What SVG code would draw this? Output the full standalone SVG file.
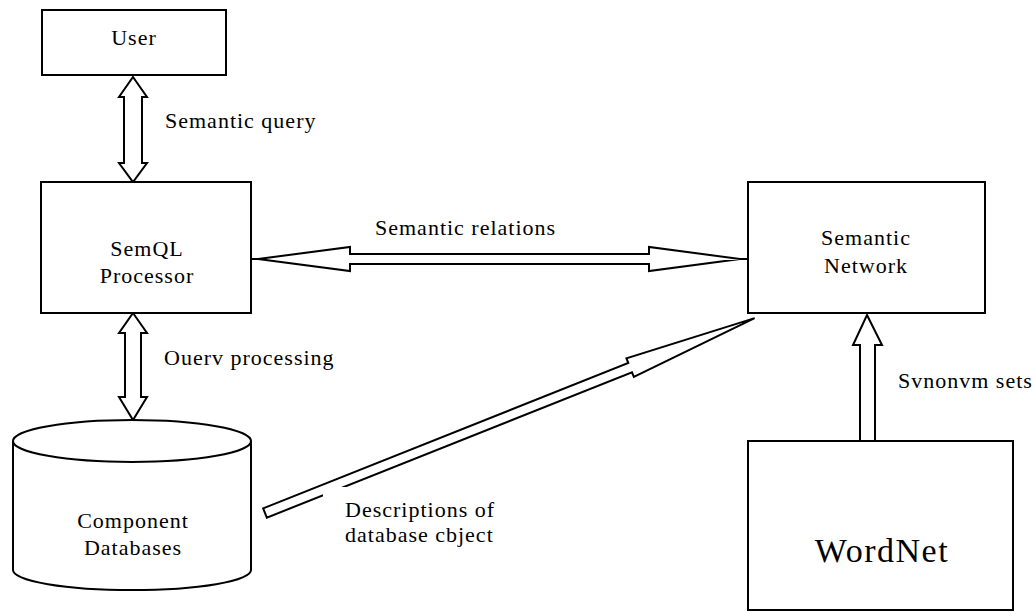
<svg xmlns="http://www.w3.org/2000/svg" width="1034" height="612" viewBox="0 0 1034 612">
  <style>
    .box { fill: #ffffff; stroke: #000000; stroke-width: 2; }
    .arr { fill: #ffffff; stroke: #000000; stroke-width: 2; stroke-linejoin: miter; }
    .ln { fill: none; stroke: #000000; stroke-width: 2; }
    .t { font-family: "Liberation Serif", "Times New Roman", serif; font-size: 22px; letter-spacing: 1px; fill: #000000; }
    .c { text-anchor: middle; }
    .big { font-size: 34px; letter-spacing: 1.5px; }
  </style>
  <rect width="1034" height="612" fill="#ffffff"/>

  <g id="connectors">
    <!-- User <-> SemQL -->
    <path class="arr" d="M133,77 L147,97 L142,97 L142,163 L147,163 L133,182 L119,163 L124,163 L124,97 L119,97 Z"/>
    <!-- SemQL <-> Component Databases -->
    <path class="arr" d="M133,313 L147,333 L141,333 L141,397 L147,397 L133,420 L119,397 L125,397 L125,333 L119,333 Z"/>
    <!-- SemQL <-> Semantic Network -->
    <line class="ln" x1="251" y1="259" x2="258" y2="259"/>
    <line class="ln" x1="740" y1="259" x2="748" y2="259"/>
    <path class="arr" d="M258,259 L350,247 L350,254 L649,254 L649,247 L740,259 L649,271 L649,264 L350,264 L350,271 Z"/>
    <!-- Component Databases -> Semantic Network -->
    <polygon class="arr" transform="translate(265,513) rotate(-21.7)" points="0,-5 393,-5 393,-10 527,0 393,10 393,5 0,5"/>
    <!-- WordNet -> Semantic Network -->
    <path class="arr" d="M867,315 L882,345 L875,345 L875,441 L860,441 L860,345 L853,345 Z"/>
  </g>

  <g id="label-semantic-query">
    <text class="t" x="165" y="128">Semantic query</text>
  </g>
  <g id="label-query-processing">
    <text class="t" x="164" y="365">Ouerv processing</text>
  </g>
  <g id="label-semantic-relations">
    <text class="t" x="375" y="235">Semantic relations</text>
  </g>
  <g id="label-descriptions">
    <rect x="323" y="487" width="175" height="62" fill="#ffffff"/>
    <text class="t" x="345" y="517">Descriptions of</text>
    <text class="t" x="345" y="542">database cbject</text>
  </g>
  <g id="label-synonym-sets">
    <text class="t" x="898" y="388">Svnonvm sets</text>
  </g>

  <g id="node-user">
    <rect class="box" x="42" y="10" width="184" height="65"/>
    <text class="t c" x="134" y="45">User</text>
  </g>

  <g id="node-semql">
    <rect class="box" x="41" y="182" width="210" height="131"/>
    <text class="t c" x="147" y="256">SemQL</text>
    <text class="t c" x="147" y="283">Processor</text>
  </g>

  <g id="node-component-databases">
    <path class="box" d="M13,441 L13,570 A119,20 0 0 0 251,570 L251,441"/>
    <ellipse class="box" cx="132" cy="441" rx="119" ry="21"/>
    <text class="t c" x="133" y="528">Component</text>
    <text class="t c" x="133" y="555">Databases</text>
  </g>

  <g id="node-semantic-network">
    <rect class="box" x="748" y="182" width="237" height="131"/>
    <text class="t c" x="866" y="245">Semantic</text>
    <text class="t c" x="866" y="273">Network</text>
  </g>

  <g id="node-wordnet">
    <rect class="box" x="748" y="441" width="265" height="169"/>
    <text class="t c big" x="882" y="562">WordNet</text>
  </g>
</svg>
